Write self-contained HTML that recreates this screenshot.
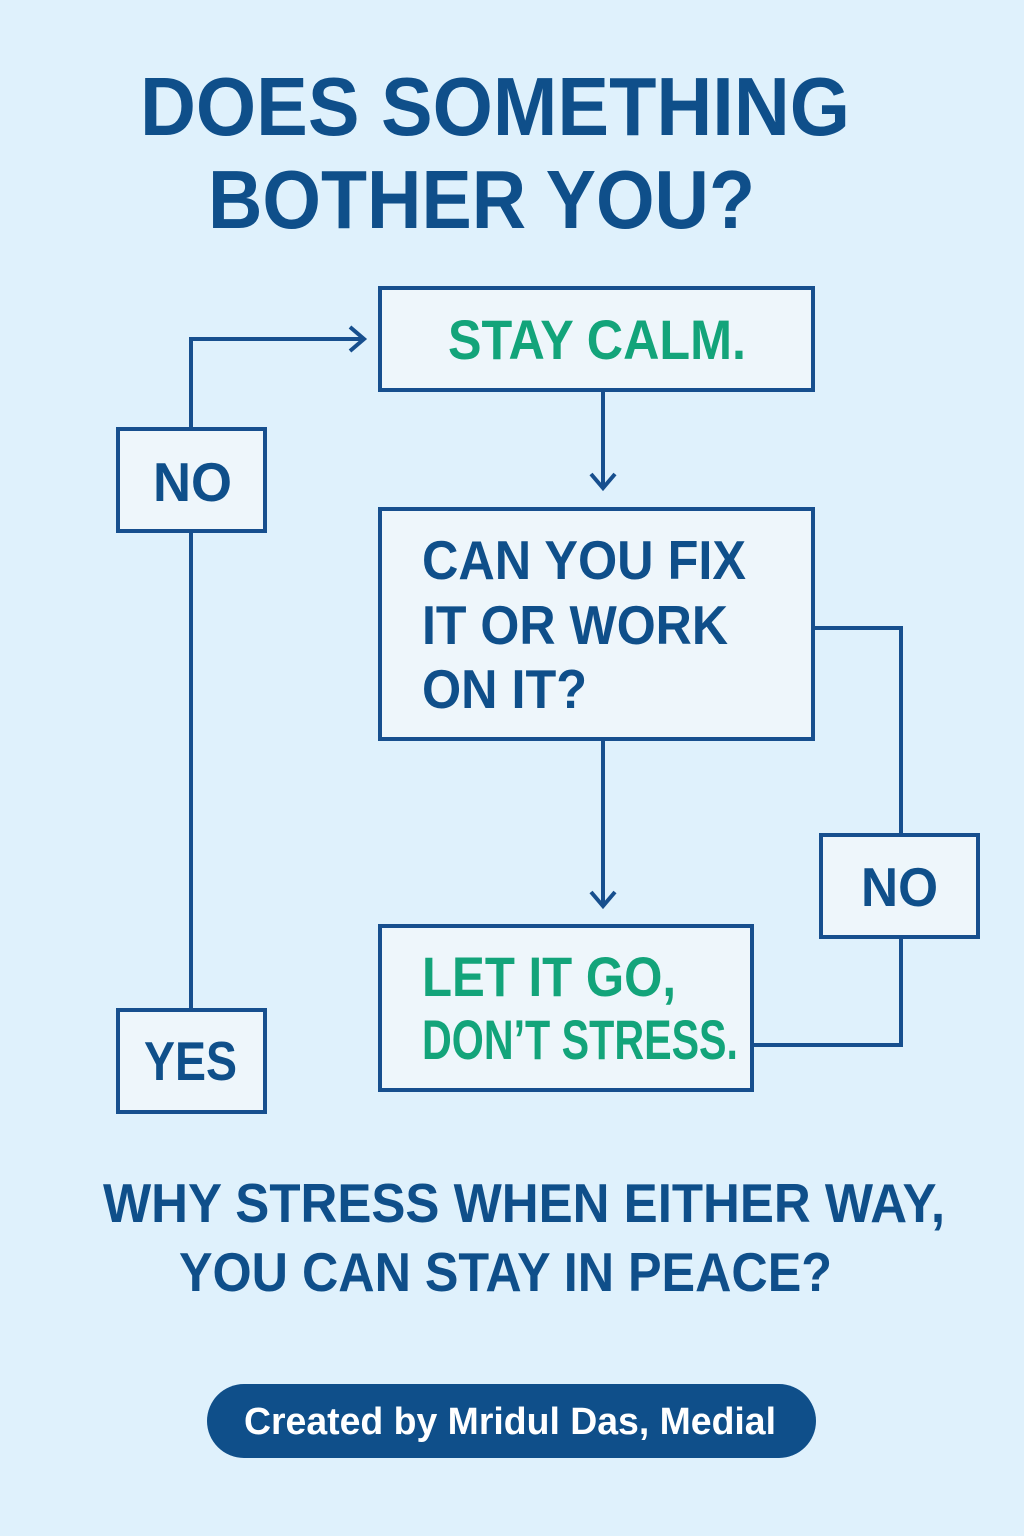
<!DOCTYPE html>
<html><head><meta charset="utf-8"><style>
html,body{margin:0;padding:0;background:#dff1fc;}
svg{display:block;}
text{font-family:"Liberation Sans",sans-serif;font-weight:bold;}
</style></head><body>
<svg width="1024" height="1536" viewBox="0 0 1024 1536" xmlns="http://www.w3.org/2000/svg">
<rect width="1024" height="1536" fill="#dff1fc"/>
<g fill="#0f4f8a">
<text x="140" y="135" font-size="83" textLength="710" lengthAdjust="spacingAndGlyphs">DOES SOMETHING</text>
<text x="208" y="228" font-size="83" textLength="547" lengthAdjust="spacingAndGlyphs">BOTHER YOU?</text>
</g>
<g fill="none" stroke="#174f8e" stroke-width="4">
<line x1="603" y1="391" x2="603" y2="488"/>
<polyline points="591,474 603,488 615,474"/>
<line x1="603" y1="740" x2="603" y2="906"/>
<polyline points="591,892 603,906 615,892"/>
<polyline points="814,628 901,628 901,835"/>
<polyline points="901,938 901,1045 753,1045"/>
<line x1="191" y1="533" x2="191" y2="1009"/>
<polyline points="191,428 191,339 364,339"/>
<polyline points="350,327 364,339 350,351"/>
</g>
<g fill="#eef6fb" stroke="#174f8e" stroke-width="4">
<rect x="380" y="288" width="433" height="102"/>
<rect x="380" y="509" width="433" height="230"/>
<rect x="380" y="926" width="372" height="164"/>
<rect x="118" y="429" width="147" height="102"/>
<rect x="118" y="1010" width="147" height="102"/>
<rect x="821" y="835" width="157" height="102"/>
</g>
<g fill="#13a47a" font-size="56">
<text x="448" y="359" textLength="298" lengthAdjust="spacingAndGlyphs">STAY CALM.</text>
<text x="422" y="996" textLength="254" lengthAdjust="spacingAndGlyphs">LET IT GO,</text>
<text x="422" y="1059" textLength="316" lengthAdjust="spacingAndGlyphs">DON’T STRESS.</text>
</g>
<g fill="#0f4f8a" font-size="55">
<text x="422" y="579" textLength="324" lengthAdjust="spacingAndGlyphs">CAN YOU FIX</text>
<text x="422" y="644" textLength="306" lengthAdjust="spacingAndGlyphs">IT OR WORK</text>
<text x="422" y="708" textLength="165" lengthAdjust="spacingAndGlyphs">ON IT?</text>
<text x="153" y="501" textLength="79" lengthAdjust="spacingAndGlyphs">NO</text>
<text x="144" y="1080" textLength="93" lengthAdjust="spacingAndGlyphs">YES</text>
<text x="861" y="906" textLength="77" lengthAdjust="spacingAndGlyphs">NO</text>
<text x="103" y="1222" textLength="842" lengthAdjust="spacingAndGlyphs">WHY STRESS WHEN EITHER WAY,</text>
<text x="179" y="1291" textLength="653" lengthAdjust="spacingAndGlyphs">YOU CAN STAY IN PEACE?</text>
</g>
<rect x="207" y="1384" width="609" height="74" rx="37" fill="#0f4f8a"/>
<text x="244" y="1434" font-size="38" fill="#ffffff" textLength="532" lengthAdjust="spacingAndGlyphs">Created by Mridul Das, Medial</text>
</svg>
</body></html>
